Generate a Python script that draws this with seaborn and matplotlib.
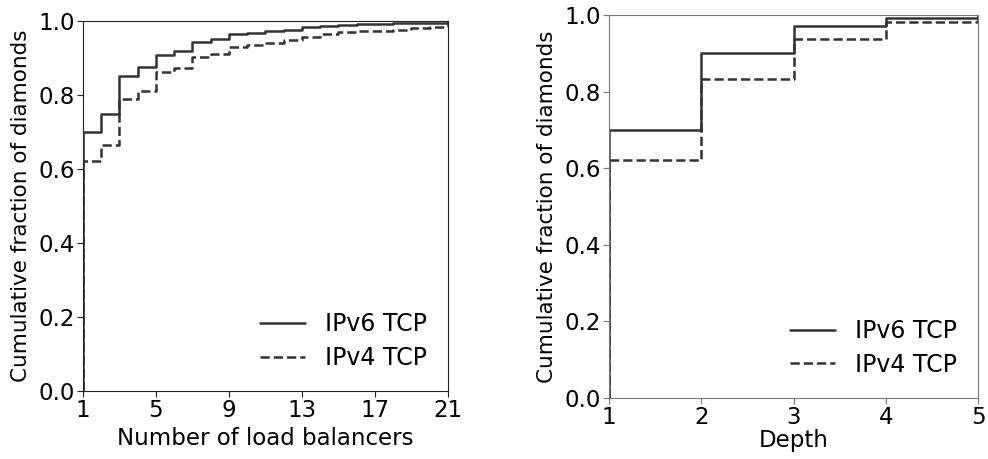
import matplotlib
matplotlib.use("Agg")
import matplotlib.pyplot as plt
import seaborn as sns
import pandas as pd

# cumulative fraction of diamonds per number of load balancers
n_lb = list(range(1, 22))
lb_ipv6 = [0.700, 0.748, 0.852, 0.877, 0.908, 0.920, 0.944, 0.951, 0.965, 0.968, 0.974,
           0.977, 0.983, 0.986, 0.988, 0.991, 0.993, 0.994, 0.995, 0.996, 1.0]
lb_ipv4 = [0.621, 0.665, 0.788, 0.812, 0.861, 0.874, 0.904, 0.910, 0.929, 0.935, 0.941,
           0.949, 0.958, 0.966, 0.970, 0.972, 0.974, 0.977, 0.980, 0.984, 1.0]

# cumulative fraction of diamonds per depth
depth = [1, 2, 3, 4, 5]
depth_ipv6 = [0.700, 0.900, 0.970, 0.993, 1.0]
depth_ipv4 = [0.622, 0.833, 0.938, 0.981, 1.0]

sns.set_style("ticks")
plt.rcParams['font.family'] = ['DejaVu Sans']
plt.rcParams['text.color'] = 'black'
plt.rcParams['axes.labelcolor'] = 'black'
plt.rcParams['xtick.color'] = 'black'
plt.rcParams['ytick.color'] = 'black'

def cdf_frame(xs, ys):
    # start the step at zero on the first x value
    return pd.DataFrame({"x": [xs[0]] + list(xs), "y": [0.0] + list(ys)})

def draw(ax, xs, v6, v4, xlabel, xticks, spine_color, xpad):
    sns.lineplot(data=cdf_frame(xs, v6), x="x", y="y", ax=ax, estimator=None, sort=False,
                 drawstyle="steps-post", color="#333333", linewidth=1.8, label="IPv6 TCP")
    sns.lineplot(data=cdf_frame(xs, v4), x="x", y="y", ax=ax, estimator=None, sort=False,
                 drawstyle="steps-post", color="#333333", linewidth=1.8, linestyle="--",
                 label="IPv4 TCP")
    ax.set_xlim(xs[0], xs[-1])
    ax.set_ylim(0, 1.0)
    ax.set_xticks(xticks)
    ax.set_yticks([0.0, 0.2, 0.4, 0.6, 0.8, 1.0])
    ax.set_yticklabels(["0.0", "0.2", "0.4", "0.6", "0.8", "1.0"])
    ax.set_xlabel(xlabel, fontsize=16.5, labelpad=xpad)
    ax.set_ylabel("Cumulative fraction of diamonds", fontsize=15.5, labelpad=5)
    ax.tick_params(labelsize=16.5, length=4, pad=2, color=spine_color)
    for s in ax.spines.values():
        s.set_visible(True)
        s.set_color(spine_color)
    ax.legend(loc="lower right", frameon=False, fontsize=17, handlelength=1.9,
              handletextpad=0.85, labelspacing=0.4, borderaxespad=0.5)

fig = plt.figure(figsize=(9.88, 4.59), dpi=100)
ax1 = fig.add_axes([0.0840, 0.1481, 0.3694, 0.8061])
ax2 = fig.add_axes([0.6164, 0.1329, 0.3735, 0.8344])

draw(ax1, n_lb, lb_ipv6, lb_ipv4, "Number of load balancers", [1, 5, 9, 13, 17, 21],
     "#222222", 3)
draw(ax2, depth, depth_ipv6, depth_ipv4, "Depth", [1, 2, 3, 4, 5], "#777777", 0)

fig.savefig("out.png", dpi=100)
